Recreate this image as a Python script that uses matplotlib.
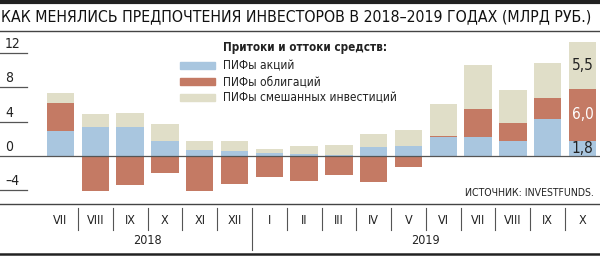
import numpy as np
import matplotlib.pyplot as plt
from matplotlib.lines import Line2D
import matplotlib.transforms as mtransforms

plt.rcParams['font.family'] = ['DejaVu Sans']
plt.rcParams['font.stretch'] = 'condensed'

# --------------------------------------------------
# Data (bln RUB): net flows into mutual funds
# --------------------------------------------------
months = ['VII', 'VIII', 'IX', 'X', 'XI', 'XII',
          'I', 'II', 'III', 'IV', 'V', 'VI', 'VII', 'VIII', 'IX', 'X']
years = ['2018', '2019']
year_spans = [(0, 5), (6, 15)]

stocks = [2.9, 3.4, 3.35, 1.7, 0.7, 0.6, 0.3, 0.25, 0.1, 1.0, 1.2, 2.2, 2.2, 1.8, 4.3, 1.8]
bonds = [3.25, -4.05, -3.4, -1.95, -4.05, -3.3, -2.5, -2.9, -2.2, -3.0, -1.25, 0.15, 3.3, 2.0, 2.45, 6.0]
mixed = [1.25, 1.5, 1.7, 2.0, 1.0, 1.15, 0.55, 0.95, 1.2, 1.6, 1.85, 3.75, 5.05, 3.9, 4.1, 5.5]

series_names = ['ПИФы акций', 'ПИФы облигаций', 'ПИФы смешанных инвестиций']
colors = ['#a9c6df', '#c47a64', '#e0dec8']

y_ticks = [12, 8, 4, 0, -4]
y_tick_labels = ['12', '8', '4', '0', '–4']

# --------------------------------------------------
# Figure
# --------------------------------------------------
W, H = 600, 256
fig = plt.figure(figsize=(6, 2.56), dpi=100)

x0_px, step_px = 60.5, 34.8
zero_px, unit_px = 156, 8.58
top_px, bot_px = 35, 204

ax = fig.add_axes([0, 1 - bot_px / H, 1, (bot_px - top_px) / H])
ax.set_xlim(-x0_px / step_px, (W - x0_px) / step_px)
ax.set_ylim((zero_px - bot_px) / unit_px, (zero_px - top_px) / unit_px)
ax.axis('off')

x = np.arange(len(months))
stocks = np.array(stocks)
bonds = np.array(bonds)
mixed = np.array(mixed)
bond_bottom = np.where(bonds > 0, stocks, 0)
mixed_bottom = stocks + np.clip(bonds, 0, None)

bw = 0.79
ax.bar(x, stocks, bw, color=colors[0], zorder=2)
ax.bar(x, bonds, bw, bottom=bond_bottom, color=colors[1], zorder=2)
ax.bar(x, mixed, bw, bottom=mixed_bottom, color=colors[2], zorder=2)

# zero line across the whole width
ax.axhline(0, color='#555555', lw=0.9, zorder=3)

# y tick labels with short underlines
trans_px = mtransforms.blended_transform_factory(
    mtransforms.Affine2D().scale(1 / W) + fig.transFigure, ax.transData)
for v, lab in zip(y_ticks, y_tick_labels):
    ax.text(5, v + 0.25, lab, transform=trans_px, fontsize=10,
            ha='left', va='bottom', color='#222222')
    if v != 0:
        ax.plot([0, 27], [v, v], transform=trans_px, color='#555555',
                lw=0.9, clip_on=False)

# value labels on the last bar
last = len(months) - 1
ax.text(x[last], mixed_bottom[last] + mixed[last] / 2, '5,5', ha='center', va='center',
        fontsize=11, color='#222222', zorder=4)
ax.text(x[last], bond_bottom[last] + bonds[last] / 2, '6,0', ha='center', va='center',
        fontsize=11, color='white', zorder=4)
ax.text(x[last], stocks[last] / 2, '1,8', ha='center', va='center',
        fontsize=11, color='#222222', zorder=4)

# legend
fig.text(223 / W, 1 - 48 / H, 'Притоки и оттоки средств:', fontsize=8.4,
         fontweight='bold', ha='left', va='center', color='#222222')
for k, (name, c) in enumerate(zip(series_names, colors)):
    yy = 1 - (65.7 + 16 * k) / H
    fig.patches.append(plt.Rectangle((180 / W, yy - 3.5 / H), 35 / W, 7 / H,
                                     color=c, transform=fig.transFigure))
    fig.text(223 / W, yy, name, fontsize=8.6, ha='left', va='center', color='#222222')

# source
fig.text(594 / W, 1 - 193 / H, 'ИСТОЧНИК: INVESTFUNDS.', fontsize=7.6,
         ha='right', va='center', color='#222222')

# title and rules
fig.text(1 / W, 1 - 17 / H, 'КАК МЕНЯЛИСЬ ПРЕДПОЧТЕНИЯ ИНВЕСТОРОВ В 2018–2019 ГОДАХ (МЛРД РУБ.)',
         fontsize=11.3, ha='left', va='center', color='#111111')
for ypx, lw, col in [(2, 3.0, '#222222'), (30.7, 1.0, '#444444'),
                     (204, 1.0, '#444444'), (253.5, 1.8, '#222222')]:
    fig.add_artist(Line2D([0, 1], [1 - ypx / H] * 2, transform=fig.transFigure,
                          color=col, lw=lw))

# month labels, separators, years
trans_xf = mtransforms.blended_transform_factory(ax.transData, fig.transFigure)
for i, m in enumerate(months):
    ax.text(i, 1 - 220 / H, m, transform=trans_xf, ha='center', va='center',
            fontsize=9, color='#222222')
for i in range(len(months) - 1):
    y_end = 250 if i == 5 else 230
    ax.plot([i + 0.5, i + 0.5], [1 - 208 / H, 1 - y_end / H], transform=trans_xf,
            color='#555555', lw=0.8, clip_on=False)
for yr, (a, b) in zip(years, year_spans):
    ax.text((a + b) / 2, 1 - 241 / H, yr, transform=trans_xf, ha='center', va='center',
            fontsize=9, color='#222222')

fig.savefig('out.png', dpi=100)
